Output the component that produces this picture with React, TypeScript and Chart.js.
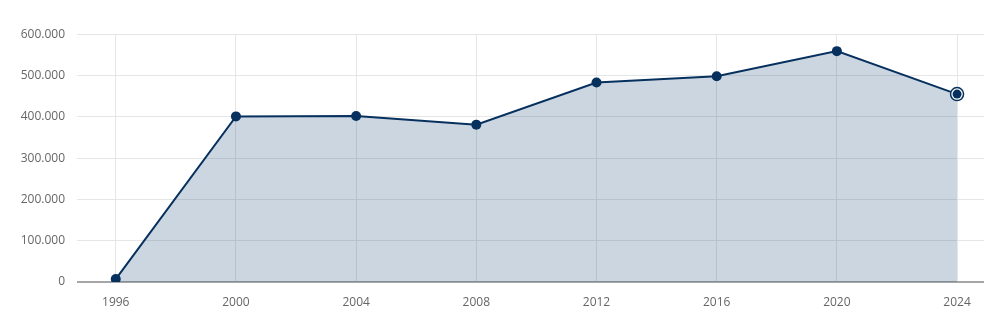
import React, { useEffect, useRef } from "react";
import { Chart, registerables } from "chart.js";

Chart.register(...registerables);

const years = [1996, 2000, 2004, 2008, 2012, 2016, 2020, 2024];
const values = [7000, 401000, 402000, 381000, 483000, 498000, 559000, 455000];
const yTicks = [0, 100000, 200000, 300000, 400000, 500000, 600000];

const NAVY = "#06315f";

const ringPlugin = {
  id: "lastRing",
  afterDatasetsDraw(chart: any) {
    const meta = chart.getDatasetMeta(0);
    const pt = meta.data[meta.data.length - 1];
    if (!pt) return;
    const ctx = chart.ctx;
    ctx.save();
    ctx.beginPath();
    ctx.arc(pt.x, pt.y, 6.5, 0, Math.PI * 2);
    ctx.fillStyle = "#ffffff";
    ctx.fill();
    ctx.lineWidth = 1.5;
    ctx.strokeStyle = NAVY;
    ctx.stroke();
    ctx.beginPath();
    ctx.arc(pt.x, pt.y, 4.5, 0, Math.PI * 2);
    ctx.fillStyle = NAVY;
    ctx.fill();
    ctx.restore();
  },
};

export default function App() {
  const ref = useRef<HTMLCanvasElement>(null);
  useEffect(() => {
    if (!ref.current) return;
    const chart = new Chart(ref.current, {
      type: "line",
      data: {
        datasets: [
          {
            data: years.map((y, i) => ({ x: y, y: values[i] })),
            borderColor: NAVY,
            borderWidth: 2,
            backgroundColor: "rgba(0,51,102,0.2)",
            fill: "origin",
            pointRadius: values.map((_, i) => (i === values.length - 1 ? 0 : 5)),
            pointBackgroundColor: NAVY,
            pointBorderColor: NAVY,
            pointBorderWidth: 0,
            tension: 0,
          },
        ],
      },
      plugins: [ringPlugin],
      options: {
        animation: false,
        responsive: true,
        maintainAspectRatio: false,
        layout: { padding: { top: 0, right: 0, bottom: 0, left: 0 } },
        plugins: { legend: { display: false }, tooltip: { enabled: false } },
        scales: {
          x: {
            type: "linear",
            min: 1994.71,
            max: 2024.93,
            afterBuildTicks: (scale: any) => {
              scale.ticks = years.map((v) => ({ value: v }));
            },
            afterFit: (scale: any) => {
              scale.height = 43;
            },
            grid: {
              color: "#e6e6e6",
              drawTicks: false,
            },
            border: { display: false },
            ticks: {
              color: "#666666",
              font: { family: "'Open Sans', sans-serif", size: 12 },
              padding: 13,
              callback: (v: any) => String(v),
            },
          },
          y: {
            min: 0,
            max: 600000,
            afterBuildTicks: (scale: any) => {
              scale.ticks = yTicks.map((v) => ({ value: v }));
            },
            afterFit: (scale: any) => {
              scale.width = 77;
            },
            grid: {
              color: (ctx: any) => (ctx.tick && ctx.tick.value === 0 ? "#a6a6a6" : "#e6e6e6"),
              lineWidth: (ctx: any) => (ctx.tick && ctx.tick.value === 0 ? 2 : 1),
              drawTicks: false,
            },
            border: { display: false },
            ticks: {
              color: "#666666",
              font: { family: "'Open Sans', sans-serif", size: 12 },
              padding: 12,
              callback: (v: any) => Number(v).toLocaleString("de-DE"),
            },
          },
        },
      },
    });
    return () => chart.destroy();
  }, []);
  return (
    <div style={{ position: "fixed", left: 0, top: 0, width: 984, height: 325, background: "#fff", overflow: "hidden" }}>
      <div style={{ position: "absolute", left: 0, top: 15, width: 990, height: 310 }}>
        <canvas ref={ref} />
      </div>
    </div>
  );
}
